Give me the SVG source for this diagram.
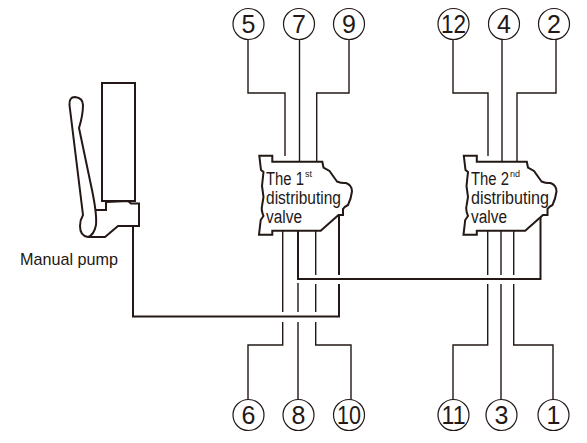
<svg xmlns="http://www.w3.org/2000/svg" width="587" height="443" viewBox="0 0 587 443">
<defs>
<style>
text{font-family:"Liberation Sans",Arial,sans-serif;fill:#231815}
.n{font-size:25px;text-anchor:middle}
.c{fill:#fff;stroke:#231815;stroke-width:1.2}
.l{fill:none;stroke:#231815;stroke-width:1.4}
.t{fill:none;stroke:#231815;stroke-width:2}
.v{fill:#fff;stroke:#231815;stroke-width:2;stroke-linejoin:miter}
.b{font-size:18px}
.s{font-size:9px}
</style>
<path id="vs" class="v" d="M259.3 155.7H272.3V161.7H322.3L323.5 167.5L329.5 171L337 181.5Q342 183.5 346 183Q352 185 352 191.5Q351 199 348 205Q344 207 343 209L343 215H338.5L320.7 230.7H272.3V234.7H259L260.7 220L263.5 216Q261 210 262 206L263.5 197L262 186L263.5 172L261 170L259.3 155.7Z"/>
</defs>
<g id="connectors">
<path class="l" d="M248 39V93H285V156"/>
<path class="l" d="M299.5 39V162"/>
<path class="l" d="M349 39V93H316.7V162"/>
<path class="l" d="M453 39V93H488V156"/>
<path class="l" d="M502 39V162"/>
<path class="l" d="M556 39V93H517V162"/>
<path class="l" d="M282.7 231V312M282.7 322V345H248V400"/>
<path class="t" d="M298 231V279H540.5V215"/>
<path class="l" d="M298 283V312M298 322V400"/>
<path class="l" d="M315.7 231V275M315.7 284V312M315.7 322V345H351V400"/>
<path class="t" d="M339 215V275M339 284V316.5H133V225"/>
<path class="l" d="M487.7 231V275M487.7 284V345H453V400"/>
<path class="l" d="M501 231V275M501 284V400"/>
<path class="l" d="M513.7 231V275M513.7 284V345H553V400"/>
</g>
<g id="pump">
<rect class="t" x="102" y="83" width="33" height="118" fill="#fff"/>
<path class="t" d="M96 210H106V202L128 201L131 203.500H139V226H118L105 237H88"/>
<path class="t" d="M69.500 105Q69 97 75 97Q83 98 83 105Q83 115 79 128L92 190Q97 214 96 225Q94 235 88 237Q80 236 80 226Q80 220 83 215Q77 165 69.500 105Z"/>
<text x="20" y="265" font-size="17" textLength="98" lengthAdjust="spacingAndGlyphs">Manual pump</text>
</g>
<g id="valve1">
<use href="#vs"/>
<text class="b" x="266" y="185" textLength="38" lengthAdjust="spacingAndGlyphs">The 1</text>
<text class="s" x="305" y="177">st</text>
<text class="b" x="266" y="204" textLength="75" lengthAdjust="spacingAndGlyphs">distributing</text>
<text class="b" x="266" y="223" textLength="36" lengthAdjust="spacingAndGlyphs">valve</text>
</g>
<g id="valve2">
<use href="#vs" x="204.500"/>
<text class="b" x="471" y="185" textLength="38" lengthAdjust="spacingAndGlyphs">The 2</text>
<text class="s" x="510" y="177">nd</text>
<text class="b" x="471" y="204" textLength="78" lengthAdjust="spacingAndGlyphs">distributing</text>
<text class="b" x="471" y="223" textLength="36" lengthAdjust="spacingAndGlyphs">valve</text>
</g>
<g id="n5"><circle class="c" cx="248.500" cy="24" r="15.500"/><text class="n" x="248.500" y="33">5</text></g>
<g id="n7"><circle class="c" cx="299" cy="24" r="15.500"/><text class="n" x="299" y="33">7</text></g>
<g id="n9"><circle class="c" cx="349" cy="24" r="15.500"/><text class="n" x="349" y="33">9</text></g>
<g id="n12"><circle class="c" cx="453.500" cy="24" r="15.500"/><text class="n" x="453.500" y="33" textLength="25" lengthAdjust="spacingAndGlyphs">12</text></g>
<g id="n4"><circle class="c" cx="504" cy="24" r="15.500"/><text class="n" x="504" y="33">4</text></g>
<g id="n2"><circle class="c" cx="554" cy="24" r="15.500"/><text class="n" x="554" y="33">2</text></g>
<g id="n6"><circle class="c" cx="248.500" cy="415" r="15.500"/><text class="n" x="248.500" y="424">6</text></g>
<g id="n8"><circle class="c" cx="298.500" cy="415" r="15.500"/><text class="n" x="298.500" y="424">8</text></g>
<g id="n10"><circle class="c" cx="349" cy="415" r="15.500"/><text class="n" x="349" y="424" textLength="24" lengthAdjust="spacingAndGlyphs">10</text></g>
<g id="n11"><circle class="c" cx="453.500" cy="415" r="15.500"/><text class="n" x="453.500" y="424" textLength="24" lengthAdjust="spacingAndGlyphs">11</text></g>
<g id="n3"><circle class="c" cx="501.500" cy="415" r="15.500"/><text class="n" x="501.500" y="424">3</text></g>
<g id="n1"><circle class="c" cx="553.500" cy="415" r="15.500"/><text class="n" x="553.500" y="424">1</text></g>
</svg>
